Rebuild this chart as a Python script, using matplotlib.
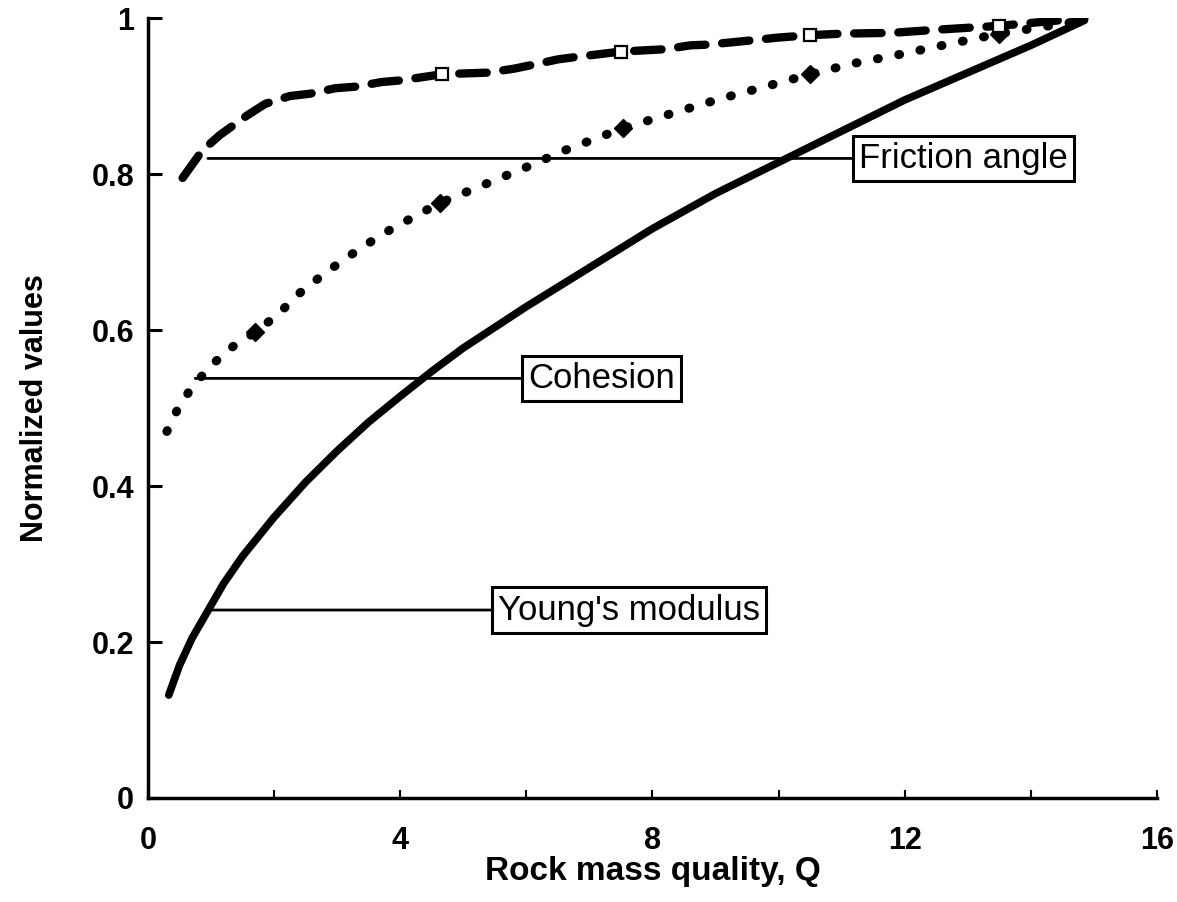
import matplotlib
matplotlib.use("Agg")
import matplotlib.pyplot as plt

# Young's modulus (solid)
q_young = [0.33, 0.5, 0.7, 0.95, 1.2, 1.5, 2.0, 2.5, 3.0, 3.5, 4.0, 4.5, 5.0, 6.0, 7.0, 8.0,
           9.0, 10.0, 11.0, 12.0, 13.0, 14.0, 14.85]
young = [0.132, 0.17, 0.205, 0.24, 0.275, 0.31, 0.36, 0.405, 0.445, 0.482, 0.515, 0.547, 0.577,
         0.63, 0.68, 0.73, 0.775, 0.815, 0.855, 0.895, 0.93, 0.965, 0.997]

# Cohesion (dotted)
q_coh = [0.3, 0.48, 0.7, 1.02, 1.35, 1.7, 2.06, 2.4, 2.76, 3.1, 3.47, 3.83, 4.19, 4.63, 5.2,
         5.92, 6.63, 7.54, 8.4, 9.1, 9.83, 10.5, 11.2, 11.9, 12.6, 13.5, 14.85]
coh = [0.47, 0.50, 0.527, 0.556, 0.579, 0.597, 0.62, 0.647, 0.67, 0.69, 0.71, 0.728, 0.744, 0.763, 0.782,
       0.806, 0.831, 0.859, 0.88, 0.897, 0.913, 0.928, 0.942, 0.953, 0.965, 0.98, 0.997]
q_coh_marks = [1.7, 4.63, 7.54, 10.5, 13.5]
coh_marks = [0.597, 0.763, 0.859, 0.928, 0.98]

# Friction angle (dashed)
q_fric = [0.55, 0.86, 1.14, 1.57, 1.86, 2.25, 2.57, 2.97, 3.29, 3.71, 4.0, 4.67, 5.38, 5.8, 6.1,
          6.5, 6.78, 7.5, 8.2, 8.6, 8.9, 9.4, 10.0, 10.5, 11.0, 11.8, 12.5, 13.5, 14.85]
fric = [0.795, 0.83, 0.85, 0.875, 0.89, 0.90, 0.903, 0.91, 0.912, 0.918, 0.92, 0.928, 0.93, 0.935, 0.94,
        0.947, 0.95, 0.957, 0.96, 0.965, 0.966, 0.97, 0.975, 0.978, 0.98, 0.981, 0.985, 0.99, 1.0]
q_fric_marks = [4.67, 7.5, 10.5, 13.5]
fric_marks = [0.928, 0.957, 0.978, 0.99]

labels = ["Friction angle", "Cohesion", "Young's modulus"]
label_anchor_q = [0.95, 0.75, 0.98]
label_anchor_v = [0.82, 0.538, 0.241]

x_ticks = [0, 4, 8, 12, 16]
y_ticks = [0, 0.2, 0.4, 0.6, 0.8, 1]
y_ticklabels = ["0", "0.2", "0.4", "0.6", "0.8", "1"]

plt.rcParams["font.family"] = ["Liberation Sans", "DejaVu Sans"]

fig = plt.figure(figsize=(11.77, 9.02), dpi=100)
ax = fig.add_axes([0.1257, 0.1153, 0.8573, 0.8647])

ax.plot(q_young, young, color="black", linewidth=5.5, solid_capstyle="round",
        solid_joinstyle="round")
ax.plot(q_coh, coh, color="black", linewidth=6.5, linestyle=(0, (0.1, 2.3)),
        dash_capstyle="round")
ax.plot(q_coh_marks, coh_marks, linestyle="none", marker="D", markersize=9, color="black")
ax.plot(q_fric, fric, color="black", linewidth=6, linestyle=(0, (3.3, 2.0)),
        dash_capstyle="round")
ax.plot(q_fric_marks, fric_marks, linestyle="none", marker="s", markersize=8,
        markerfacecolor="white", markeredgecolor="black", markeredgewidth=1.6)

text_q = [11.28, 6.03, 5.55]
for text, aq, av, tq in zip(labels, label_anchor_q, label_anchor_v, text_q):
    ax.annotate(text, xy=(aq, av), xytext=(tq, av), ha="left", va="center",
                fontsize=25,
                bbox=dict(boxstyle="square,pad=0.18", facecolor="white",
                          edgecolor="black", linewidth=2.2),
                arrowprops=dict(arrowstyle="-", linewidth=2, shrinkA=0, shrinkB=0,
                                color="black"))

ax.set_xlim(0, 16)
ax.set_ylim(0, 1)
ax.set_xticks(x_ticks)
ax.set_xticks([2, 6, 10, 14], minor=True)
ax.set_yticks(y_ticks)
ax.set_yticklabels(y_ticklabels)
ax.tick_params(axis="y", direction="in", length=10, width=2.2, labelsize=22, pad=10)
ax.tick_params(axis="x", which="both", direction="in", length=6, width=1.5,
               labelsize=22, pad=20)
for lab in ax.get_xticklabels() + ax.get_yticklabels():
    lab.set_fontweight("bold")

for side in ("top", "right"):
    ax.spines[side].set_visible(False)
for side in ("left", "bottom"):
    ax.spines[side].set_linewidth(2.5)

ax.set_xlabel("Rock mass quality, Q", fontsize=24, fontweight="bold", labelpad=0)
ax.set_ylabel("Normalized values", fontsize=22, fontweight="bold", labelpad=30)

fig.savefig("out.png", dpi=100)
